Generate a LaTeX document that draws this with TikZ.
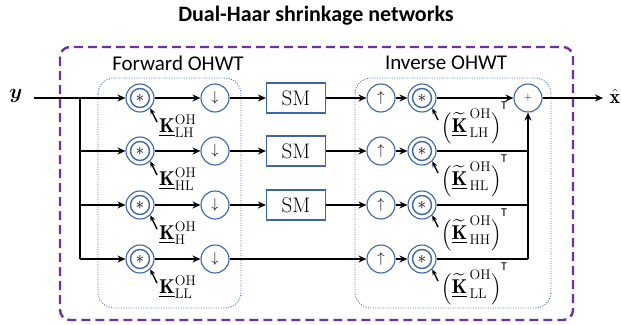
\documentclass[tikz,border=0pt]{standalone}
\usepackage{fontspec}
\usepackage{amsmath,bm}
\newfontfamily\carlito{Carlito}
\usetikzlibrary{arrows.meta,calc}
\definecolor{opblue}{HTML}{3D65A8}
\definecolor{dotblue}{HTML}{4472C4}
\definecolor{outerpurple}{HTML}{7030A0}
\newcommand{\lpar}{\text{\fontsize{16}{16}\selectfont$\Bigl($}}
\newcommand{\rpar}{\text{\fontsize{16}{16}\selectfont$\Bigr)$}}
\newcommand{\tK}{{\widetilde{\underline{\mathbf{K}}}}}
\begin{document}
\begin{tikzpicture}[x=1pt,y=-1pt,
  wire/.style={line width=1.8pt},
  arr/.style={wire,-{Stealth[length=8pt,width=7pt]}},
  op/.style={circle,draw=opblue,line width=1.1pt,minimum size=28pt,inner sep=0pt},
  convop/.style={op,font=\fontsize{17}{17}\selectfont,
    path picture={\draw[line width=1.4pt] (path picture bounding box.center) circle (9.5pt);}},
  arrowop/.style={op,font=\fontsize{14}{14}\selectfont},
  plusop/.style={op,font=\fontsize{11}{11}\selectfont},
  smbox/.style={draw=opblue,line width=1.1pt,minimum width=59pt,minimum height=30pt,inner sep=0pt,font=\fontsize{21}{24}\selectfont},
  klab/.style={font=\fontsize{20}{22}\selectfont,inner sep=0pt},
  karr/.style={line width=1.4pt,-{Stealth[length=6pt,width=5pt]}},
  tsup/.style={font=\carlito\fontsize{12}{12}\selectfont,inner sep=0pt},
  grouplab/.style={font=\carlito\fontsize{21}{24}\selectfont,inner sep=0pt},
  outerbox/.style={draw=outerpurple,line width=2.4pt,dash pattern=on 9pt off 5pt,rounded corners=10pt},
  innerbox/.style={draw=dotblue,line width=0.9pt,dash pattern=on 1pt off 1.5pt,rounded corners=16pt}
]
\useasboundingbox (0,0) rectangle (621,324);

% title
\node[font=\carlito\bfseries\fontsize{22}{26}\selectfont,inner sep=0pt] (title) at (316,16) {Dual-Haar shrinkage networks};

% frames
\draw[outerbox] (60,47) rectangle (573,320);
\draw[innerbox] (98,78) rectangle (241,308);
\draw[innerbox] (355,78) rectangle (551,308);
\node[grouplab] (fwdlab) at (178,63) {Forward OHWT};
\node[grouplab] (invlab) at (446,63) {Inverse OHWT};

% input / output
\node[font=\fontsize{22}{22}\selectfont,inner sep=0pt] (ylab) at (16,96) {$\bm{y}$};
\coordinate (in) at (34,98);
\coordinate (br1) at (80,98);
\coordinate (br4) at (80,259);
\coordinate (out) at (603,98);
\node[font=\fontsize{20}{20}\selectfont,inner sep=0pt] (xhat) at (615,96) {$\hat{\mathbf{x}}$};

% operators
\foreach \i/\y in {1/98,2/151,3/205,4/259}{
  \node[convop] (fc\i) at (140,\y) {$*$};
  \node[arrowop] (fd\i) at (215,\y) {$\downarrow$};
  \node[arrowop] (iu\i) at (381,\y) {$\uparrow$};
  \node[convop] (ic\i) at (422,\y) {$*$};
}
\foreach \i/\y in {1/98,2/151,3/205}{
  \node[smbox] (sm\i) at (296,\y) {SM};
}
\node[plusop] (pl) at (528,98) {+};

% K labels
\node[klab,anchor=west] (kf1) at (159,126) {$\underline{\mathbf{K}}^{\mathrm{OH}}_{\mathrm{LH}}$};
\node[klab,anchor=west] (kf2) at (159,179) {$\underline{\mathbf{K}}^{\mathrm{OH}}_{\mathrm{HL}}$};
\node[klab,anchor=west] (kf3) at (159,233) {$\underline{\mathbf{K}}^{\mathrm{OH}}_{\mathrm{H}}$};
\node[klab,anchor=west] (kf4) at (159,287) {$\underline{\mathbf{K}}^{\mathrm{OH}}_{\mathrm{LL}}$};

\node[klab,anchor=west] (ki1) at (441,126) {$\lpar\tK^{\,\mathrm{OH}}_{\,\mathrm{LH}}\rpar$};
\node[klab,anchor=west] (ki2) at (441,179) {$\lpar\tK^{\,\mathrm{OH}}_{\,\mathrm{HL}}\rpar$};
\node[klab,anchor=west] (ki3) at (441,233) {$\lpar\tK^{\,\mathrm{OH}}_{\,\mathrm{HH}}\rpar$};
\node[klab,anchor=west] (ki4) at (441,287) {$\lpar\tK^{\,\mathrm{OH}}_{\,\mathrm{LL}}\rpar$};

\foreach \i in {1,2,3,4}{
  \node[tsup] (t\i) at ($(ic\i)+(82,8)$) {T};
  \draw[karr] ($(kf\i.west)+(-2,-4)$) -- (fc\i.-45);
  \draw[karr] ($(ki\i.west)+(-3,-6)$) -- (ic\i.-45);
}

% wiring
\draw[wire] (in) -- (br1);
\draw[arr] (br1) -- (fc1);
\draw[wire] (br1) -- (br4);
\foreach \i in {2,3,4}{
  \draw[arr] (br1 |- fc\i) -- (fc\i);
}
\foreach \i in {1,2,3,4}{
  \draw[arr] (fc\i) -- (fd\i);
  \draw[arr] (iu\i) -- (ic\i);
}
\foreach \i in {1,2,3}{
  \draw[arr] (fd\i) -- (sm\i);
  \draw[arr] (sm\i) -- (iu\i);
}
\draw[arr] (fd4) -- (iu4);
\draw[arr] (ic1) -- (pl);
\foreach \i in {2,3,4}{
  \draw[wire] (ic\i) -- (ic\i -| pl);
}
\draw[arr] (ic4 -| pl) -- (pl);
\draw[arr] (pl) -- (out);
\end{tikzpicture}
\end{document}
